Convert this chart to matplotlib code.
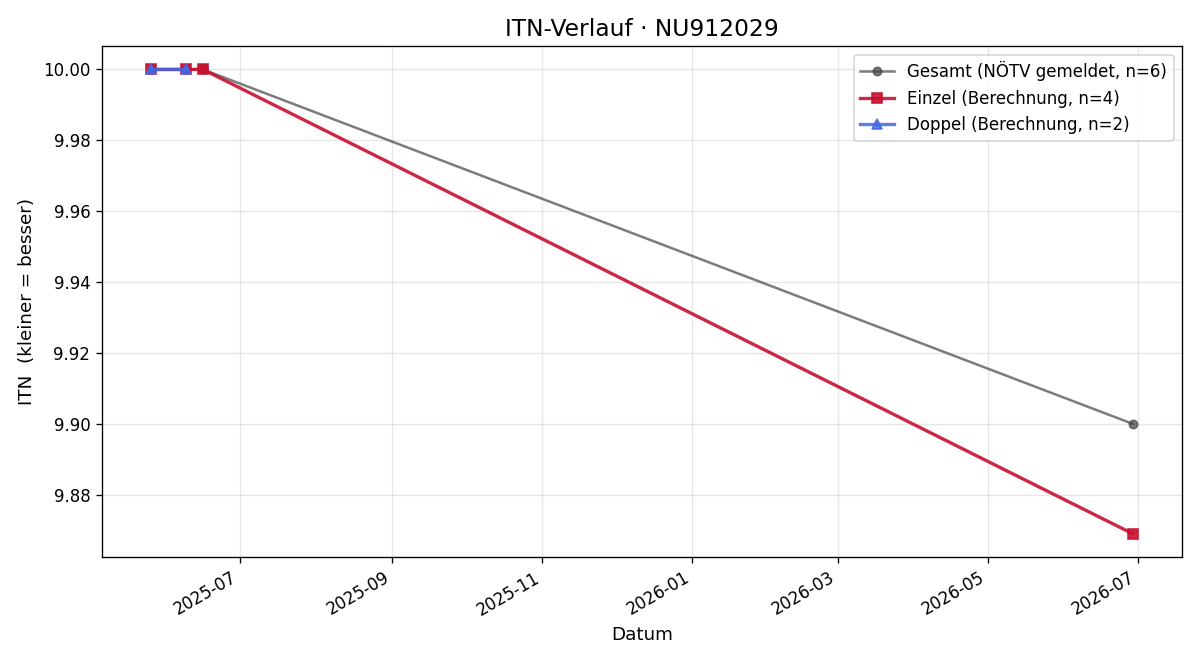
import matplotlib
matplotlib.use("Agg")
import matplotlib.pyplot as plt
import matplotlib.dates as mdates
from datetime import date

# Gesamt (NÖTV gemeldet)
gesamt_dates = [date(2025, 5, 26), date(2025, 6, 9), date(2025, 6, 9),
                date(2025, 6, 16), date(2025, 6, 16), date(2026, 6, 29)]
gesamt_itn = [10.0, 10.0, 10.0, 10.0, 10.0, 9.90]

# Einzel (Berechnung)
einzel_dates = [date(2025, 5, 26), date(2025, 6, 9), date(2025, 6, 16), date(2026, 6, 29)]
einzel_itn = [10.0, 10.0, 10.0, 9.869]

# Doppel (Berechnung)
doppel_dates = [date(2025, 5, 26), date(2025, 6, 9)]
doppel_itn = [10.0, 10.0]

fig, ax = plt.subplots(figsize=(10, 5.5), dpi=120)

ax.plot(gesamt_dates, gesamt_itn, marker="o", markersize=5, linewidth=1.5,
        color="#444444", alpha=0.7, label=f"Gesamt (NÖTV gemeldet, n={len(gesamt_itn)})")
ax.plot(einzel_dates, einzel_itn, marker="s", markersize=6.5, linewidth=2.0,
        color="#c8102e", alpha=0.9, label=f"Einzel (Berechnung, n={len(einzel_itn)})")
ax.plot(doppel_dates, doppel_itn, marker="^", markersize=6.5, linewidth=2.0,
        color="#4169e8", alpha=0.85, label=f"Doppel (Berechnung, n={len(doppel_itn)})")

ax.set_title("ITN-Verlauf · NU912029", fontsize=14)
ax.set_xlabel("Datum", fontsize=11)
ax.set_ylabel("ITN  (kleiner = besser)", fontsize=11)
ax.grid(True, alpha=0.3)
ax.legend(loc="upper right", fontsize=10)
ax.xaxis.set_major_formatter(mdates.DateFormatter("%Y-%m"))
fig.autofmt_xdate()

fig.subplots_adjust(left=0.085, right=0.985, top=0.930, bottom=0.156)
fig.savefig("out.png", dpi=120)
